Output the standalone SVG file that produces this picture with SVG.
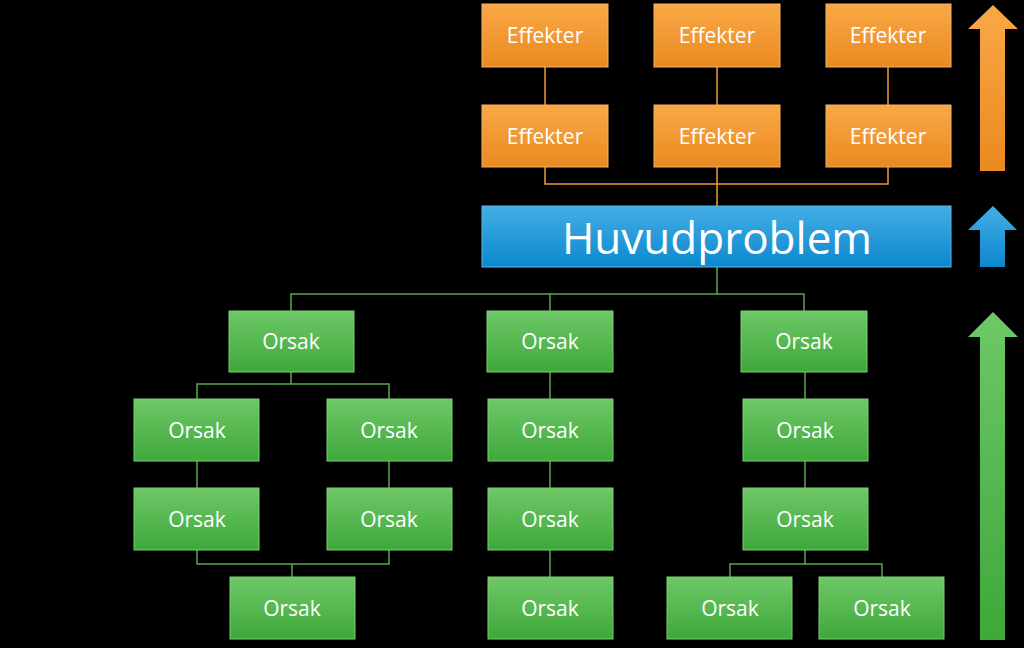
<svg xmlns="http://www.w3.org/2000/svg" width="1024" height="648" viewBox="0 0 1024 648">
<defs>
<linearGradient id="gO" x1="0" y1="0" x2="0" y2="1"><stop offset="0" stop-color="#f9a847"/><stop offset="1" stop-color="#ea8a20"/></linearGradient>
<linearGradient id="gB" x1="0" y1="0" x2="0" y2="1"><stop offset="0" stop-color="#44aee4"/><stop offset="1" stop-color="#0b88cf"/></linearGradient>
<linearGradient id="gG" x1="0" y1="0" x2="0" y2="1"><stop offset="0" stop-color="#6ec867"/><stop offset="1" stop-color="#3ea83a"/></linearGradient>
<style>
.o{fill:url(#gO);stroke:#f6b26b;stroke-width:1}
.b{fill:url(#gB);stroke:#5cb8e8;stroke-width:1}
.g{fill:url(#gG);stroke:#7ccf74;stroke-width:1}
.t{font-family:"Open Sans","Noto Sans",sans-serif;fill:#ffffff;text-anchor:middle;dominant-baseline:central}
.s{font-size:21px}
.lo{stroke:#f29a35;stroke-width:1.5;fill:none}
.lg{stroke:#5aa84f;stroke-width:1.5;fill:none}
</style>
</defs>
<rect width="1024" height="648" fill="#000"/>
<g id="connectors">
<path class="lo" d="M545 67V105M717 67V105M888 67V105M545 167V184H888V167M717 167V206"/>
<path class="lg" d="M717 267V294M291 311V294H804V311M550 294V311"/>
<path class="lg" d="M291 372V384M197 399V384H389V399"/>
<path class="lg" d="M197 461V488M389 461V488M197 550V564H389V550M292 564V577"/>
<path class="lg" d="M550 372V399M550 461V488M550 550V577"/>
<path class="lg" d="M805 372V399M805 461V488M805 550V564M730 577V564H882V577"/>
</g>
<g id="e1"><rect class="o" x="482" y="4" width="126" height="63"/><text class="t s" x="545" y="35">Effekter</text></g>
<g id="e2"><rect class="o" x="654" y="4" width="126" height="63"/><text class="t s" x="717" y="35">Effekter</text></g>
<g id="e3"><rect class="o" x="826" y="4" width="125" height="63"/><text class="t s" x="888" y="35">Effekter</text></g>
<g id="e4"><rect class="o" x="482" y="105" width="126" height="62"/><text class="t s" x="545" y="135.5">Effekter</text></g>
<g id="e5"><rect class="o" x="654" y="105" width="126" height="62"/><text class="t s" x="717" y="135.5">Effekter</text></g>
<g id="e6"><rect class="o" x="826" y="105" width="125" height="62"/><text class="t s" x="888" y="135.5">Effekter</text></g>
<g id="huvud"><rect class="b" x="482" y="206" width="469" height="61"/><text class="t" x="717" y="237" font-size="44">Huvudproblem</text></g>
<g id="o1"><rect class="g" x="229" y="311" width="125" height="61"/><text class="t s" x="291" y="341">Orsak</text></g>
<g id="o2"><rect class="g" x="487" y="311" width="126" height="61"/><text class="t s" x="550" y="341">Orsak</text></g>
<g id="o3"><rect class="g" x="741" y="311" width="126" height="61"/><text class="t s" x="804" y="341">Orsak</text></g>
<g id="o4"><rect class="g" x="134" y="399" width="125" height="62"/><text class="t s" x="197" y="429.5">Orsak</text></g>
<g id="o5"><rect class="g" x="327" y="399" width="125" height="62"/><text class="t s" x="389" y="429.5">Orsak</text></g>
<g id="o6"><rect class="g" x="488" y="399" width="125" height="62"/><text class="t s" x="550" y="429.5">Orsak</text></g>
<g id="o7"><rect class="g" x="743" y="399" width="125" height="62"/><text class="t s" x="805" y="429.5">Orsak</text></g>
<g id="o8"><rect class="g" x="134" y="488" width="125" height="62"/><text class="t s" x="197" y="518.5">Orsak</text></g>
<g id="o9"><rect class="g" x="327" y="488" width="125" height="62"/><text class="t s" x="389" y="518.5">Orsak</text></g>
<g id="o10"><rect class="g" x="488" y="488" width="125" height="62"/><text class="t s" x="550" y="518.5">Orsak</text></g>
<g id="o11"><rect class="g" x="743" y="488" width="125" height="62"/><text class="t s" x="805" y="518.5">Orsak</text></g>
<g id="o12"><rect class="g" x="230" y="577" width="125" height="62"/><text class="t s" x="292" y="607.5">Orsak</text></g>
<g id="o13"><rect class="g" x="488" y="577" width="125" height="62"/><text class="t s" x="550" y="607.5">Orsak</text></g>
<g id="o14"><rect class="g" x="667" y="577" width="125" height="62"/><text class="t s" x="730" y="607.5">Orsak</text></g>
<g id="o15"><rect class="g" x="819" y="577" width="125" height="62"/><text class="t s" x="882" y="607.5">Orsak</text></g>
<g id="arrows">
<polygon fill="url(#gO)" points="993,5 1018,29 1005,29 1005,171 980,171 980,29 968,29"/>
<polygon fill="url(#gB)" points="993,206 1017,230 1005,230 1005,267 980,267 980,230 968,230"/>
<polygon fill="url(#gG)" points="993,312 1018,337 1005,337 1005,640 980,640 980,337 968,337"/>
</g>
</svg>
